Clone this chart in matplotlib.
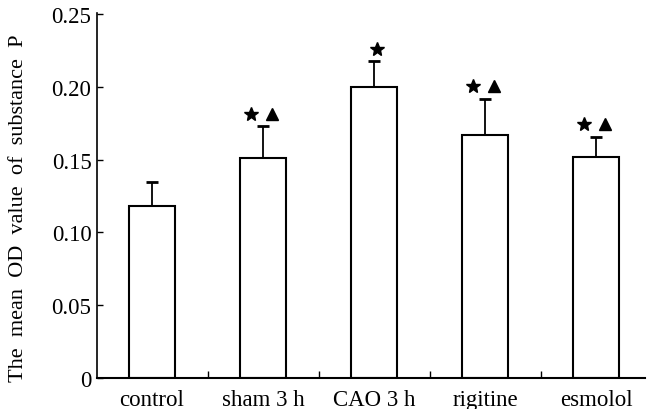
import numpy as np
import matplotlib
matplotlib.use("Agg")
import matplotlib.pyplot as plt

# values
groups = ["control", "sham 3 h", "CAO 3 h", "rigitine", "esmolol"]
means = [0.118, 0.151, 0.200, 0.167, 0.152]
errors = [0.017, 0.022, 0.018, 0.025, 0.014]
stars = [False, True, True, True, True]
triangles = [False, True, False, True, True]
yticks = [0, 0.05, 0.10, 0.15, 0.20, 0.25]
ytick_labels = ["0", "0.05", "0.10", "0.15", "0.20", "0.25"]

plt.rcParams["font.family"] = ["Liberation Serif", "DejaVu Serif"]

fig = plt.figure(figsize=(6.47, 4.10), dpi=100)
ax = fig.add_axes([0.150, 0.076, 0.847, 0.890])

x = np.arange(len(groups))
ax.bar(x, means, width=0.41, color="white", edgecolor="black", linewidth=1.5, zorder=2)
ax.errorbar(x, means, yerr=[np.zeros(len(errors)), errors], fmt="none",
            ecolor="black", elinewidth=1.3, capsize=4, capthick=2, zorder=1)

# significance markers above the error bars
tops = np.array(means) + np.array(errors)
for i in range(len(groups)):
    y = tops[i] + 0.0085
    if stars[i] and triangles[i]:
        ax.plot(x[i] - 0.11, y, marker="*", color="black", markersize=10, clip_on=False)
        ax.plot(x[i] + 0.08, y, marker="^", color="black", markersize=8, clip_on=False)
    elif stars[i]:
        ax.plot(x[i] + 0.03, y, marker="*", color="black", markersize=10, clip_on=False)

ax.set_xlim(-0.495, 4.44)
ax.set_ylim(0, 0.251)

# ticks between the bars, labels under the bars
ax.set_xticks(x[:-1] + 0.5)
ax.set_xticklabels([])
ax.set_xticks(x, minor=True)
ax.set_xticklabels(groups, minor=True, fontsize=16.5)
ax.tick_params(axis="x", which="major", direction="in", length=5, width=1)
ax.tick_params(axis="x", which="minor", length=0, pad=8)

ax.set_yticks(yticks)
ax.set_yticklabels(ytick_labels, fontsize=16.5)
ax.tick_params(axis="y", direction="in", length=4, width=1, pad=4)

fig.text(19 / 647, 1 - 208 / 410, "The  mean  OD  value  of  substance  P",
         rotation=90, ha="center", va="center", fontsize=16)

ax.spines["top"].set_visible(False)
ax.spines["right"].set_visible(False)
ax.spines["left"].set_linewidth(1.2)
ax.spines["bottom"].set_linewidth(1.5)

fig.savefig("out.png", dpi=100)
